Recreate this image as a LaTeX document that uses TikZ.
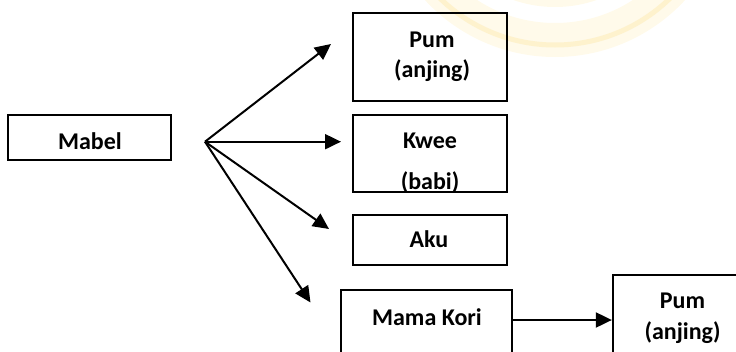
\documentclass[tikz,border=0pt]{standalone}
\usepackage{fontspec}
\setmainfont{Carlito}
\usetikzlibrary{arrows.meta,calc}
\definecolor{wmlight}{RGB}{255,250,234}
\definecolor{wmdark}{RGB}{254,242,205}
\begin{document}
\begin{tikzpicture}[x=1pt,y=-1pt,
  frame/.style 2 args={draw, line width=1.7pt, minimum width=#1pt, minimum height=#2pt, inner sep=0pt},
  lbl/.style={font=\fontsize{24}{24}\selectfont\bfseries, anchor=base, inner sep=0pt},
  arr/.style={line width=2pt, -{Triangle[length=16pt,width=15pt]}}]
\useasboundingbox (0,0) rectangle (736,351);
\clip (0,0) rectangle (736,351);
% faint watermark
\draw[wmlight, line width=34pt] (555,-120) circle (160);
\draw[wmdark, line width=5pt] (555,-120) circle (165);
\draw[wmlight, line width=14pt] (555,-120) circle (120);
% boxes
\node[frame={163}{45}] (mabel) at (89.7,137.5) {};
\node[frame={154}{87.5}] (pum) at (430,57) {};
\node[frame={154}{76.7}] (kwee) at (430,153.3) {};
\node[frame={154}{50}] (aku) at (430,240) {};
\node[frame={171}{64}] (mama) at (426.5,322) {};
\node[frame={140}{90}] (pumtwo) at (682.7,320) {};
% texts
\node[lbl] (tmabel) at (90,149.3) {Mabel};
\node[lbl] (tpum) at (432,47.3) {Pum};
\node[lbl] (tpumb) at (432,77) {(anjing)};
\node[lbl] (tkwee) at (430,148.3) {Kwee};
\begin{scope}
  \clip (352,115) rectangle (508,190.5);
  \node[lbl] (tbabi) at (430,189) {(babi)};
\end{scope}
\node[lbl] (taku) at (429,247) {Aku};
\node[lbl] (tmama) at (427,325) {Mama Kori};
\node[lbl] (tpumtwo) at (682.5,308.3) {Pum};
\node[lbl] (tpumtwob) at (682.5,339) {(anjing)};
% fan of arrows
\coordinate (o) at (205,141.7);
\coordinate (t1) at (331,44);
\coordinate (t2) at (341,141.7);
\coordinate (t3) at (329,229);
\coordinate (t4) at (310.5,302.5);
\draw[arr] (o) -- (t1);
\draw[arr] (o) -- (t2);
\draw[arr] (o) -- (t3);
\draw[arr] (o) -- (t4);
\draw[arr] (mama.east |- pumtwo.west) -- (pumtwo.west);
\end{tikzpicture}
\end{document}
